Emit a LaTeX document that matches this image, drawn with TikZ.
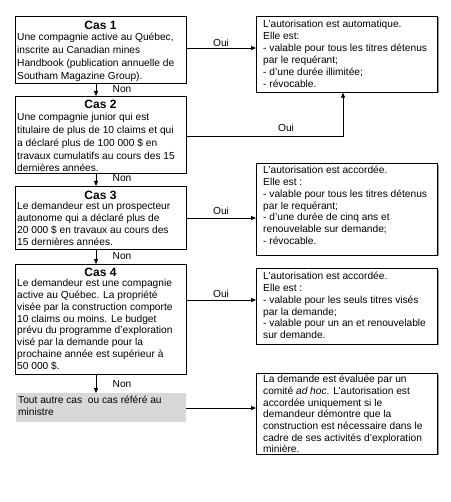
\documentclass[tikz,border=0pt]{standalone}
\usepackage{fontspec}
\setmainfont{Liberation Sans}
\usetikzlibrary{arrows.meta}
\definecolor{graybox}{RGB}{216,216,216}
\newcommand{\txtblock}[2]{{\fontsize{10.2}{#1}\selectfont\begin{tabular}{@{}l@{}}#2\end{tabular}}}
\begin{document}
\begin{tikzpicture}[x=1pt,y=-1pt,
  lbox/.style={draw, line width=1pt, minimum width=171pt, anchor=north west, inner sep=0pt},
  rbox/.style={draw, line width=0.7pt, minimum width=181pt, anchor=north west, inner sep=0pt},
  gbox/.style={fill=graybox, minimum width=170pt, minimum height=29pt, anchor=north west, inner sep=0pt},
  casetitle/.style={font=\fontsize{12}{14}\selectfont\bfseries, inner sep=0pt, anchor=center},
  body/.style={anchor=north west, inner sep=0pt},
  lab/.style={font=\fontsize{10.2}{12}\selectfont, inner sep=0pt, anchor=center},
  arr/.style={line width=0.8pt, -{Triangle[length=5pt,width=4pt]}},
  shade/.style={draw=black!40, line width=0.8pt}
]
\useasboundingbox (0,0) rectangle (450,502);

% left boxes
\node[lbox, minimum height=67pt] (c1) at (15,16) {};
\node[lbox, minimum height=77pt] (c2) at (15,96) {};
\node[lbox, minimum height=63pt] (c3) at (15,186) {};
\node[lbox, minimum height=110pt] (c4) at (15,264) {};
\node[gbox] (g) at (16,393) {};

% right boxes
\node[rbox, minimum height=76pt] (r1) at (256,16) {};
\node[rbox, minimum height=91pt] (r2) at (256,163.5) {};
\node[rbox, minimum height=76pt] (r3) at (256,268) {};
\node[rbox, minimum height=81pt] (r4) at (256,373) {};
\foreach \b in {r1,r2,r3,r4}{
  \draw[shade] ([xshift=1.1pt,yshift=-1.5pt]\b.north east) -- ([xshift=1.1pt,yshift=-0.4pt]\b.south east);
}

% titles
\node[casetitle] (c1h) at (100.5,25) {Cas 1};
\node[casetitle] (c2h) at (100.5,104) {Cas 2};
\node[casetitle] (c3h) at (100.5,195) {Cas 3};
\node[casetitle] (c4h) at (100.5,272) {Cas 4};

% left texts
\node[body] (c1b) at (17,31.6) {\txtblock{12.8}{Une compagnie active au Québec,\\inscrite au Canadian mines\\Handbook (publication annuelle de\\Southam Magazine Group).}};
\node[body] (c2b) at (17,111.6) {\txtblock{12.8}{Une compagnie junior qui est\\titulaire de plus de 10 claims et qui\\a déclaré plus de 100 000 \$ en\\travaux cumulatifs au cours des 15\\dernières années.}};
\node[body] (c3b) at (17,201.1) {\txtblock{12}{Le demandeur est un prospecteur\\autonome qui a déclaré plus de\\20 000 \$ en travaux au cours des\\15 dernières années.}};
\node[body] (c4b) at (17,278.2) {\txtblock{11.8}{Le demandeur est une compagnie\\active au Québec. La propriété\\visée par la construction comporte\\10 claims ou moins. Le budget\\prévu du programme d’exploration\\visé par la demande pour la\\prochaine année est supérieur à\\50 000 \$.}};
\node[body] (gb) at (18,395.2) {\txtblock{11.7}{Tout autre cas~ ou cas référé au\\ministre}};

% right texts
\node[body] (r1b) at (263,19.2) {\txtblock{12}{L’autorisation est automatique.\\Elle est:\\- valable pour tous les titres détenus\\par le requérant;\\- d’une durée illimitée;\\- révocable.}};
\node[body] (r2b) at (263,165.6) {\txtblock{11.7}{L’autorisation est accordée.\\Elle est :\\- valable pour tous les titres détenus\\par le requérant;\\- d’une durée de cinq ans et\\renouvelable sur demande;\\- révocable.}};
\node[body] (r3b) at (263,271.2) {\txtblock{11.8}{L’autorisation est accordée.\\Elle est :\\- valable pour les seuls titres visés\\par la demande;\\- valable pour un an et renouvelable\\sur demande.}};
\node[body] (r4b) at (263,374.3) {\txtblock{11.7}{La demande est évaluée par un\\comité \textit{ad hoc}. L’autorisation est\\accordée uniquement si le\\demandeur démontre que la\\construction est nécessaire dans le\\cadre de ses activités d’exploration\\minière.}};

% down arrows
\coordinate (ax) at (96,0);
\draw[arr] (c1.south -| ax) -- (c2.north -| ax);
\draw[arr] (c2.south -| ax) -- (c3.north -| ax);
\draw[arr] (c3.south -| ax) -- (c4.north -| ax);
\draw[arr] (c4.south -| ax) -- (g.north -| ax);
\node[lab] (n1) at (122,89) {Non};
\node[lab] (n2) at (122,178.5) {Non};
\node[lab] (n3) at (122,256) {Non};
\node[lab] (n4) at (122,384) {Non};

% oui arrows
\coordinate (y1) at (0,48);
\coordinate (k2) at (343,136);
\coordinate (y3) at (0,218);
\coordinate (y4) at (0,300);
\coordinate (y5) at (0,408);
\draw[arr] (c1.east |- y1) -- (r1.west |- y1);
\draw[arr] (c2.east |- k2) -| (r1.south -| k2);
\draw[arr] (c3.east |- y3) -- (r2.west |- y3);
\draw[arr] (c4.east |- y4) -- (r3.west |- y4);
\draw[arr] (g.east |- y5) -- (r4.west |- y5);
\node[lab] (o1) at (221,43) {Oui};
\node[lab] (o2) at (286,128) {Oui};
\node[lab] (o3) at (221,211) {Oui};
\node[lab] (o4) at (221,294) {Oui};
\end{tikzpicture}
\end{document}
